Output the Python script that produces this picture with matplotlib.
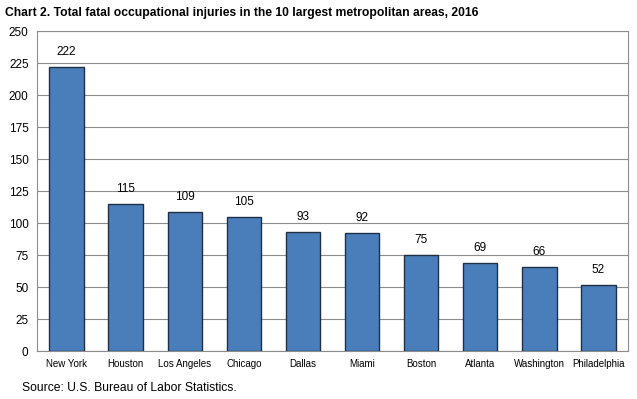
import numpy as np
import matplotlib.pyplot as plt

plt.rcParams['font.family'] = ['Liberation Sans', 'DejaVu Sans']

# data
areas = ["New York", "Houston", "Los Angeles", "Chicago", "Dallas",
         "Miami", "Boston", "Atlanta", "Washington", "Philadelphia"]
fatal = [222, 115, 109, 105, 93, 92, 75, 69, 66, 52]

fig = plt.figure(figsize=(6.37, 3.99), dpi=100)
ax = fig.add_axes([0.058, 0.120, 0.928, 0.802])

x = np.arange(len(areas))
bars = ax.bar(x, fatal, width=0.58, color='#4a7ebb', edgecolor='#1f2f45',
              linewidth=1.0, zorder=3)

for xi, v in zip(x, fatal):
    ax.text(xi, v + 7, str(v), ha='center', va='bottom', fontsize=8.5)

ax.set_xlim(-0.5, len(areas) - 0.5)
ax.set_ylim(0, 250)
ax.set_yticks(np.arange(0, 251, 25))
ax.set_xticks(x)
ax.set_xticklabels(areas, fontsize=7)
ax.tick_params(axis='x', length=0, pad=6)
ax.tick_params(axis='y', length=0, labelsize=8.5, pad=6)
ax.grid(axis='y', color='#8c8c8c', linewidth=0.8, zorder=0)

for s in ax.spines.values():
    s.set_color('#8c8c8c')
    s.set_linewidth(0.8)

fig.text(0.008, 0.968, "Chart 2. Total fatal occupational injuries in the 10 largest metropolitan areas, 2016",
         fontsize=8.7, fontweight='bold', va='center')
fig.text(0.035, 0.028, "Source: U.S. Bureau of Labor Statistics.", fontsize=8.7, va='center')

fig.savefig('out.png', dpi=100)
